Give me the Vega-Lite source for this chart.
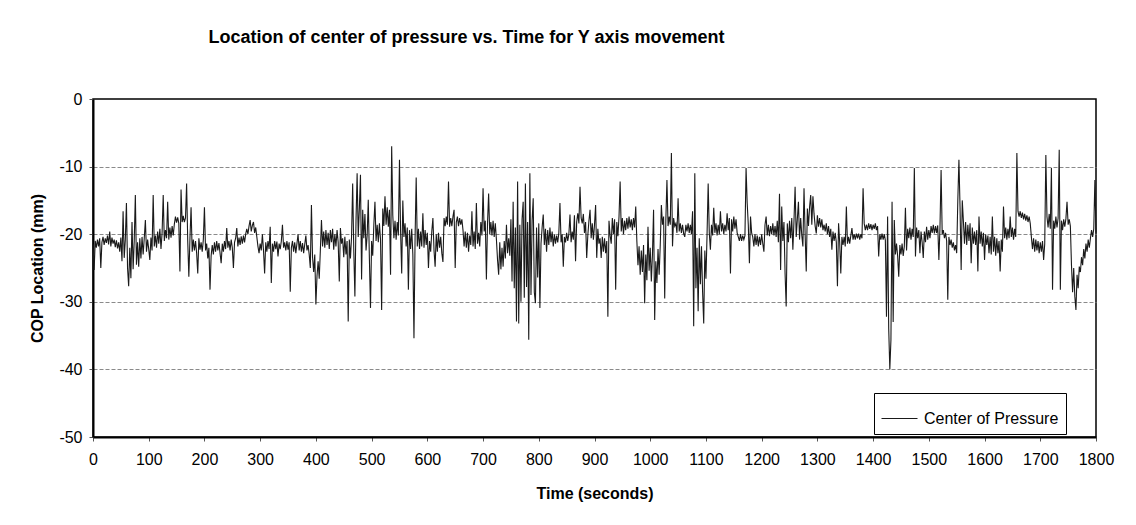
{
"$schema": "https://vega.github.io/schema/vega-lite/v6.json",
"autosize": {"type": "none"},
"width": 1003,
"height": 338,
"padding": {"left": 93, "top": 99, "right": 40, "bottom": 88},
"background": "white",
"config": {"font": "Liberation Sans", "view": {"stroke": "#000", "strokeWidth": 1.5}},
"title": {"text": "Location of center of pressure vs. Time for Y axis movement", "fontSize": 18, "fontWeight": "bold", "color": "#000", "anchor": "middle", "frame": "group", "dx": -128, "baseline": "alphabetic", "offset": 30},
"data": {"values": [
{"time":0,"cop":-21.5},{"time":2,"cop":-25.3},{"time":4,"cop":-21.0},{"time":6,"cop":-22.0},{"time":8,"cop":-20.8},{"time":10,"cop":-21.8},{"time":12,"cop":-20.6},{"time":14,"cop":-25.0},{"time":16,"cop":-21.2},{"time":18,"cop":-20.4},
{"time":20,"cop":-21.6},{"time":22,"cop":-20.6},{"time":24,"cop":-21.3},{"time":26,"cop":-20.2},{"time":28,"cop":-21.5},{"time":30,"cop":-19.6},{"time":32,"cop":-21.8},{"time":34,"cop":-20.5},{"time":36,"cop":-21.4},{"time":38,"cop":-20.8},
{"time":40,"cop":-21.9},{"time":42,"cop":-20.9},{"time":44,"cop":-22.1},{"time":46,"cop":-21.2},{"time":48,"cop":-22.6},{"time":50,"cop":-20.5},{"time":52,"cop":-24.0},{"time":54,"cop":-16.6},{"time":56,"cop":-23.5},{"time":58,"cop":-20.8},
{"time":60,"cop":-15.4},{"time":62,"cop":-25.0},{"time":64,"cop":-27.7},{"time":66,"cop":-22.0},{"time":68,"cop":-26.5},{"time":70,"cop":-18.2},{"time":72,"cop":-25.2},{"time":74,"cop":-21.0},{"time":76,"cop":-14.2},{"time":78,"cop":-24.5},
{"time":80,"cop":-21.2},{"time":82,"cop":-24.8},{"time":84,"cop":-20.6},{"time":86,"cop":-23.6},{"time":88,"cop":-20.4},{"time":90,"cop":-23.0},{"time":92,"cop":-20.6},{"time":94,"cop":-17.9},{"time":96,"cop":-22.6},{"time":98,"cop":-20.8},
{"time":100,"cop":-22.2},{"time":102,"cop":-23.8},{"time":104,"cop":-20.5},{"time":106,"cop":-22.4},{"time":108,"cop":-14.2},{"time":110,"cop":-21.8},{"time":112,"cop":-20.2},{"time":114,"cop":-22.0},{"time":116,"cop":-19.6},{"time":118,"cop":-21.4},
{"time":120,"cop":-19.2},{"time":122,"cop":-22.2},{"time":124,"cop":-19.8},{"time":126,"cop":-14.2},{"time":128,"cop":-21.0},{"time":130,"cop":-19.4},{"time":132,"cop":-20.6},{"time":134,"cop":-15.2},{"time":136,"cop":-20.8},{"time":138,"cop":-19.0},
{"time":140,"cop":-20.5},{"time":142,"cop":-18.8},{"time":144,"cop":-20.2},{"time":146,"cop":-18.5},{"time":148,"cop":-17.4},{"time":150,"cop":-18.3},{"time":152,"cop":-17.5},{"time":154,"cop":-18.4},{"time":156,"cop":-25.5},{"time":158,"cop":-13.4},
{"time":160,"cop":-18.2},{"time":162,"cop":-17.3},{"time":164,"cop":-18.2},{"time":166,"cop":-17.6},{"time":168,"cop":-12.5},{"time":170,"cop":-21.0},{"time":172,"cop":-26.3},{"time":174,"cop":-20.6},{"time":176,"cop":-16.0},{"time":178,"cop":-22.6},
{"time":180,"cop":-20.8},{"time":182,"cop":-22.4},{"time":184,"cop":-21.0},{"time":186,"cop":-22.8},{"time":188,"cop":-25.8},{"time":190,"cop":-20.6},{"time":192,"cop":-22.3},{"time":194,"cop":-21.2},{"time":196,"cop":-22.6},{"time":198,"cop":-20.8},
{"time":200,"cop":-16.0},{"time":202,"cop":-22.4},{"time":204,"cop":-21.4},{"time":206,"cop":-23.6},{"time":208,"cop":-22.0},{"time":210,"cop":-28.2},{"time":212,"cop":-23.2},{"time":214,"cop":-21.6},{"time":216,"cop":-23.0},{"time":218,"cop":-21.2},
{"time":220,"cop":-22.6},{"time":222,"cop":-21.0},{"time":224,"cop":-22.4},{"time":226,"cop":-21.3},{"time":228,"cop":-22.8},{"time":230,"cop":-24.3},{"time":232,"cop":-21.4},{"time":234,"cop":-22.6},{"time":236,"cop":-21.0},{"time":238,"cop":-22.2},
{"time":240,"cop":-19.1},{"time":242,"cop":-22.0},{"time":244,"cop":-21.0},{"time":246,"cop":-22.4},{"time":248,"cop":-20.8},{"time":250,"cop":-22.0},{"time":252,"cop":-25.0},{"time":254,"cop":-21.2},{"time":256,"cop":-20.6},{"time":258,"cop":-19.1},
{"time":260,"cop":-21.8},{"time":262,"cop":-20.5},{"time":264,"cop":-21.6},{"time":266,"cop":-20.3},{"time":268,"cop":-21.4},{"time":270,"cop":-20.2},{"time":272,"cop":-21.2},{"time":274,"cop":-20.0},{"time":276,"cop":-19.2},{"time":278,"cop":-20.0},
{"time":280,"cop":-18.8},{"time":282,"cop":-17.9},{"time":284,"cop":-19.6},{"time":286,"cop":-18.7},{"time":288,"cop":-18.2},{"time":290,"cop":-19.8},{"time":292,"cop":-19.0},{"time":294,"cop":-20.4},{"time":296,"cop":-21.8},{"time":298,"cop":-22.8},
{"time":300,"cop":-21.4},{"time":302,"cop":-22.4},{"time":304,"cop":-20.0},{"time":306,"cop":-22.4},{"time":308,"cop":-25.8},{"time":310,"cop":-21.2},{"time":312,"cop":-22.6},{"time":314,"cop":-21.0},{"time":316,"cop":-22.2},{"time":318,"cop":-18.9},
{"time":320,"cop":-27.2},{"time":322,"cop":-21.4},{"time":324,"cop":-22.6},{"time":326,"cop":-21.0},{"time":328,"cop":-22.2},{"time":330,"cop":-21.1},{"time":332,"cop":-23.3},{"time":334,"cop":-21.4},{"time":336,"cop":-22.2},{"time":338,"cop":-21.0},
{"time":340,"cop":-18.6},{"time":342,"cop":-22.0},{"time":344,"cop":-21.2},{"time":346,"cop":-22.4},{"time":348,"cop":-21.0},{"time":350,"cop":-22.3},{"time":352,"cop":-21.2},{"time":354,"cop":-28.5},{"time":356,"cop":-22.0},{"time":358,"cop":-21.0},
{"time":360,"cop":-22.6},{"time":362,"cop":-21.2},{"time":364,"cop":-22.8},{"time":366,"cop":-21.4},{"time":368,"cop":-20.0},{"time":370,"cop":-22.4},{"time":372,"cop":-21.0},{"time":374,"cop":-22.6},{"time":376,"cop":-21.3},{"time":378,"cop":-22.8},
{"time":380,"cop":-21.5},{"time":382,"cop":-20.2},{"time":384,"cop":-22.4},{"time":386,"cop":-21.6},{"time":388,"cop":-23.0},{"time":390,"cop":-25.0},{"time":392,"cop":-15.7},{"time":394,"cop":-23.4},{"time":396,"cop":-25.6},{"time":398,"cop":-23.0},
{"time":400,"cop":-30.4},{"time":402,"cop":-26.2},{"time":404,"cop":-24.0},{"time":406,"cop":-26.6},{"time":408,"cop":-22.4},{"time":410,"cop":-17.9},{"time":412,"cop":-21.8},{"time":414,"cop":-19.6},{"time":416,"cop":-22.0},{"time":418,"cop":-19.4},
{"time":420,"cop":-21.6},{"time":422,"cop":-19.8},{"time":424,"cop":-22.2},{"time":426,"cop":-19.4},{"time":428,"cop":-21.2},{"time":430,"cop":-19.2},{"time":432,"cop":-22.3},{"time":434,"cop":-20.0},{"time":436,"cop":-21.8},{"time":438,"cop":-19.4},
{"time":440,"cop":-21.2},{"time":442,"cop":-27.0},{"time":444,"cop":-19.1},{"time":446,"cop":-21.4},{"time":448,"cop":-20.6},{"time":450,"cop":-23.4},{"time":452,"cop":-20.4},{"time":454,"cop":-23.0},{"time":456,"cop":-21.0},{"time":458,"cop":-32.9},
{"time":460,"cop":-20.8},{"time":462,"cop":-23.6},{"time":464,"cop":-20.4},{"time":466,"cop":-12.5},{"time":468,"cop":-22.4},{"time":470,"cop":-29.2},{"time":472,"cop":-18.0},{"time":474,"cop":-11.0},{"time":476,"cop":-20.4},{"time":478,"cop":-16.2},
{"time":480,"cop":-11.2},{"time":482,"cop":-26.7},{"time":484,"cop":-16.4},{"time":486,"cop":-20.6},{"time":488,"cop":-17.0},{"time":490,"cop":-22.4},{"time":492,"cop":-20.2},{"time":494,"cop":-14.9},{"time":496,"cop":-23.6},{"time":498,"cop":-30.9},
{"time":500,"cop":-21.0},{"time":502,"cop":-23.2},{"time":504,"cop":-18.6},{"time":506,"cop":-15.2},{"time":508,"cop":-21.0},{"time":510,"cop":-18.6},{"time":512,"cop":-21.2},{"time":514,"cop":-18.4},{"time":516,"cop":-20.8},{"time":518,"cop":-31.2},
{"time":520,"cop":-16.2},{"time":522,"cop":-18.8},{"time":524,"cop":-14.4},{"time":526,"cop":-18.6},{"time":528,"cop":-16.0},{"time":530,"cop":-18.9},{"time":532,"cop":-16.4},{"time":534,"cop":-26.0},{"time":536,"cop":-7.0},{"time":538,"cop":-17.2},
{"time":540,"cop":-20.6},{"time":542,"cop":-18.0},{"time":544,"cop":-20.8},{"time":546,"cop":-18.2},{"time":548,"cop":-20.2},{"time":550,"cop":-9.0},{"time":552,"cop":-19.6},{"time":554,"cop":-25.8},{"time":556,"cop":-15.0},{"time":558,"cop":-20.4},
{"time":560,"cop":-18.4},{"time":562,"cop":-21.8},{"time":564,"cop":-19.0},{"time":566,"cop":-28.2},{"time":568,"cop":-19.4},{"time":570,"cop":-22.2},{"time":572,"cop":-19.2},{"time":574,"cop":-23.0},{"time":576,"cop":-35.4},{"time":578,"cop":-20.6},
{"time":580,"cop":-11.6},{"time":582,"cop":-21.8},{"time":584,"cop":-19.2},{"time":586,"cop":-22.2},{"time":588,"cop":-19.6},{"time":590,"cop":-21.8},{"time":592,"cop":-16.9},{"time":594,"cop":-22.0},{"time":596,"cop":-19.4},{"time":598,"cop":-21.6},
{"time":600,"cop":-19.8},{"time":602,"cop":-25.0},{"time":604,"cop":-21.0},{"time":606,"cop":-22.6},{"time":608,"cop":-19.6},{"time":610,"cop":-17.6},{"time":612,"cop":-22.4},{"time":614,"cop":-24.8},{"time":616,"cop":-20.0},{"time":618,"cop":-22.6},
{"time":620,"cop":-19.8},{"time":622,"cop":-22.0},{"time":624,"cop":-20.4},{"time":626,"cop":-22.8},{"time":628,"cop":-24.1},{"time":630,"cop":-17.6},{"time":632,"cop":-18.8},{"time":634,"cop":-17.4},{"time":636,"cop":-18.6},{"time":638,"cop":-12.2},
{"time":640,"cop":-18.9},{"time":642,"cop":-17.6},{"time":644,"cop":-18.8},{"time":646,"cop":-17.4},{"time":648,"cop":-16.4},{"time":650,"cop":-25.0},{"time":652,"cop":-18.2},{"time":654,"cop":-17.4},{"time":656,"cop":-18.8},{"time":658,"cop":-17.6},
{"time":660,"cop":-18.6},{"time":662,"cop":-17.8},{"time":664,"cop":-19.4},{"time":666,"cop":-21.8},{"time":668,"cop":-19.6},{"time":670,"cop":-22.0},{"time":672,"cop":-19.8},{"time":674,"cop":-22.6},{"time":676,"cop":-20.2},{"time":678,"cop":-21.6},
{"time":680,"cop":-16.6},{"time":682,"cop":-21.8},{"time":684,"cop":-19.6},{"time":686,"cop":-22.2},{"time":688,"cop":-15.4},{"time":690,"cop":-21.4},{"time":692,"cop":-19.8},{"time":694,"cop":-21.8},{"time":696,"cop":-18.2},{"time":698,"cop":-20.2},
{"time":700,"cop":-13.2},{"time":702,"cop":-19.6},{"time":704,"cop":-18.0},{"time":706,"cop":-26.7},{"time":708,"cop":-18.4},{"time":710,"cop":-14.0},{"time":712,"cop":-20.0},{"time":714,"cop":-18.2},{"time":716,"cop":-20.2},{"time":718,"cop":-18.0},
{"time":720,"cop":-20.4},{"time":722,"cop":-18.4},{"time":724,"cop":-20.8},{"time":726,"cop":-23.8},{"time":728,"cop":-26.0},{"time":730,"cop":-21.2},{"time":732,"cop":-25.2},{"time":734,"cop":-22.0},{"time":736,"cop":-24.8},{"time":738,"cop":-21.0},
{"time":740,"cop":-23.6},{"time":742,"cop":-18.6},{"time":744,"cop":-22.8},{"time":746,"cop":-20.6},{"time":748,"cop":-23.2},{"time":750,"cop":-17.8},{"time":752,"cop":-27.0},{"time":754,"cop":-15.2},{"time":756,"cop":-28.0},{"time":758,"cop":-19.0},
{"time":760,"cop":-32.9},{"time":762,"cop":-12.2},{"time":764,"cop":-33.2},{"time":766,"cop":-18.6},{"time":768,"cop":-30.0},{"time":770,"cop":-17.8},{"time":772,"cop":-15.2},{"time":774,"cop":-29.4},{"time":776,"cop":-12.5},{"time":778,"cop":-27.8},
{"time":780,"cop":-18.2},{"time":782,"cop":-35.6},{"time":784,"cop":-11.0},{"time":786,"cop":-29.0},{"time":788,"cop":-18.0},{"time":790,"cop":-14.7},{"time":792,"cop":-28.6},{"time":794,"cop":-30.2},{"time":796,"cop":-19.0},{"time":798,"cop":-26.4},
{"time":800,"cop":-18.4},{"time":802,"cop":-30.9},{"time":804,"cop":-21.4},{"time":806,"cop":-19.0},{"time":808,"cop":-17.1},{"time":810,"cop":-21.6},{"time":812,"cop":-19.2},{"time":814,"cop":-22.6},{"time":816,"cop":-19.4},{"time":818,"cop":-21.6},
{"time":820,"cop":-19.0},{"time":822,"cop":-21.2},{"time":824,"cop":-19.6},{"time":826,"cop":-21.8},{"time":828,"cop":-20.0},{"time":830,"cop":-21.4},{"time":832,"cop":-20.2},{"time":834,"cop":-21.2},{"time":836,"cop":-19.8},{"time":838,"cop":-15.4},
{"time":840,"cop":-21.2},{"time":842,"cop":-20.0},{"time":844,"cop":-24.8},{"time":846,"cop":-20.4},{"time":848,"cop":-21.2},{"time":850,"cop":-19.8},{"time":852,"cop":-21.0},{"time":854,"cop":-20.0},{"time":856,"cop":-17.1},{"time":858,"cop":-21.2},
{"time":860,"cop":-19.6},{"time":862,"cop":-20.8},{"time":864,"cop":-17.2},{"time":866,"cop":-24.0},{"time":868,"cop":-18.2},{"time":870,"cop":-16.9},{"time":872,"cop":-18.4},{"time":874,"cop":-13.0},{"time":876,"cop":-17.6},{"time":878,"cop":-18.4},
{"time":880,"cop":-17.0},{"time":882,"cop":-19.8},{"time":884,"cop":-18.2},{"time":886,"cop":-23.5},{"time":888,"cop":-20.2},{"time":890,"cop":-18.0},{"time":892,"cop":-16.4},{"time":894,"cop":-20.6},{"time":896,"cop":-18.4},{"time":898,"cop":-20.8},
{"time":900,"cop":-18.6},{"time":902,"cop":-15.7},{"time":904,"cop":-23.5},{"time":906,"cop":-19.2},{"time":908,"cop":-21.4},{"time":910,"cop":-20.6},{"time":912,"cop":-23.5},{"time":914,"cop":-20.4},{"time":916,"cop":-22.6},{"time":918,"cop":-20.6},
{"time":920,"cop":-22.8},{"time":922,"cop":-21.0},{"time":924,"cop":-32.2},{"time":926,"cop":-18.0},{"time":928,"cop":-20.2},{"time":930,"cop":-21.4},{"time":932,"cop":-17.6},{"time":934,"cop":-20.0},{"time":936,"cop":-17.8},{"time":938,"cop":-28.2},
{"time":940,"cop":-18.2},{"time":942,"cop":-20.3},{"time":944,"cop":-17.4},{"time":946,"cop":-12.2},{"time":948,"cop":-19.6},{"time":950,"cop":-17.6},{"time":952,"cop":-20.0},{"time":954,"cop":-18.0},{"time":956,"cop":-19.4},{"time":958,"cop":-17.6},
{"time":960,"cop":-19.2},{"time":962,"cop":-17.4},{"time":964,"cop":-19.0},{"time":966,"cop":-17.8},{"time":968,"cop":-19.4},{"time":970,"cop":-17.6},{"time":972,"cop":-19.0},{"time":974,"cop":-15.9},{"time":976,"cop":-21.0},{"time":978,"cop":-24.6},
{"time":980,"cop":-21.8},{"time":982,"cop":-26.0},{"time":984,"cop":-22.4},{"time":986,"cop":-25.6},{"time":988,"cop":-21.6},{"time":990,"cop":-30.2},{"time":992,"cop":-23.0},{"time":994,"cop":-26.8},{"time":996,"cop":-18.9},{"time":998,"cop":-25.4},
{"time":1000,"cop":-22.0},{"time":1002,"cop":-27.0},{"time":1004,"cop":-23.0},{"time":1006,"cop":-16.4},{"time":1008,"cop":-32.7},{"time":1010,"cop":-24.0},{"time":1012,"cop":-27.2},{"time":1014,"cop":-22.2},{"time":1016,"cop":-26.0},{"time":1018,"cop":-21.6},
{"time":1020,"cop":-15.7},{"time":1022,"cop":-18.6},{"time":1024,"cop":-17.4},{"time":1026,"cop":-29.5},{"time":1028,"cop":-18.0},{"time":1030,"cop":-12.0},{"time":1032,"cop":-18.8},{"time":1034,"cop":-17.4},{"time":1036,"cop":-18.6},{"time":1038,"cop":-8.0},
{"time":1040,"cop":-21.8},{"time":1042,"cop":-17.6},{"time":1044,"cop":-18.8},{"time":1046,"cop":-18.4},{"time":1048,"cop":-19.8},{"time":1050,"cop":-14.7},{"time":1052,"cop":-19.6},{"time":1054,"cop":-18.4},{"time":1056,"cop":-19.8},{"time":1058,"cop":-18.6},
{"time":1060,"cop":-19.9},{"time":1062,"cop":-20.4},{"time":1064,"cop":-18.6},{"time":1066,"cop":-19.6},{"time":1068,"cop":-18.4},{"time":1070,"cop":-19.8},{"time":1072,"cop":-18.6},{"time":1074,"cop":-20.0},{"time":1076,"cop":-16.6},{"time":1078,"cop":-33.6},
{"time":1080,"cop":-11.0},{"time":1082,"cop":-28.0},{"time":1084,"cop":-22.0},{"time":1086,"cop":-31.4},{"time":1088,"cop":-20.6},{"time":1090,"cop":-27.4},{"time":1092,"cop":-21.8},{"time":1094,"cop":-28.6},{"time":1096,"cop":-33.2},{"time":1098,"cop":-22.4},
{"time":1100,"cop":-26.6},{"time":1102,"cop":-20.0},{"time":1104,"cop":-12.5},{"time":1106,"cop":-19.8},{"time":1108,"cop":-22.3},{"time":1110,"cop":-18.6},{"time":1112,"cop":-20.2},{"time":1114,"cop":-16.1},{"time":1116,"cop":-19.8},{"time":1118,"cop":-18.4},
{"time":1120,"cop":-20.2},{"time":1122,"cop":-18.6},{"time":1124,"cop":-20.0},{"time":1126,"cop":-16.6},{"time":1128,"cop":-19.6},{"time":1130,"cop":-18.4},{"time":1132,"cop":-20.0},{"time":1134,"cop":-18.6},{"time":1136,"cop":-19.6},{"time":1138,"cop":-16.9},
{"time":1140,"cop":-19.4},{"time":1142,"cop":-17.6},{"time":1144,"cop":-25.8},{"time":1146,"cop":-17.8},{"time":1148,"cop":-19.6},{"time":1150,"cop":-17.4},{"time":1152,"cop":-19.2},{"time":1154,"cop":-17.8},{"time":1156,"cop":-19.8},{"time":1158,"cop":-20.4},
{"time":1160,"cop":-21.0},{"time":1162,"cop":-20.0},{"time":1164,"cop":-21.0},{"time":1166,"cop":-20.2},{"time":1168,"cop":-20.8},{"time":1170,"cop":-20.2},{"time":1172,"cop":-10.2},{"time":1174,"cop":-15.4},{"time":1176,"cop":-18.6},{"time":1178,"cop":-24.3},
{"time":1180,"cop":-17.4},{"time":1182,"cop":-19.8},{"time":1184,"cop":-20.4},{"time":1186,"cop":-21.8},{"time":1188,"cop":-20.0},{"time":1190,"cop":-21.6},{"time":1192,"cop":-20.2},{"time":1194,"cop":-21.8},{"time":1196,"cop":-20.4},{"time":1198,"cop":-21.6},
{"time":1200,"cop":-20.0},{"time":1202,"cop":-21.4},{"time":1204,"cop":-22.6},{"time":1206,"cop":-18.6},{"time":1208,"cop":-17.4},{"time":1210,"cop":-20.2},{"time":1212,"cop":-18.6},{"time":1214,"cop":-20.3},{"time":1216,"cop":-18.8},{"time":1218,"cop":-20.0},
{"time":1220,"cop":-18.4},{"time":1222,"cop":-20.2},{"time":1224,"cop":-18.8},{"time":1226,"cop":-20.4},{"time":1228,"cop":-18.0},{"time":1230,"cop":-21.2},{"time":1232,"cop":-14.0},{"time":1234,"cop":-25.3},{"time":1236,"cop":-15.9},{"time":1238,"cop":-21.0},
{"time":1240,"cop":-18.2},{"time":1242,"cop":-25.8},{"time":1244,"cop":-30.7},{"time":1246,"cop":-18.4},{"time":1248,"cop":-21.2},{"time":1250,"cop":-18.0},{"time":1252,"cop":-20.6},{"time":1254,"cop":-17.6},{"time":1256,"cop":-22.3},{"time":1258,"cop":-18.0},
{"time":1260,"cop":-13.0},{"time":1262,"cop":-20.4},{"time":1264,"cop":-17.8},{"time":1266,"cop":-15.2},{"time":1268,"cop":-20.8},{"time":1270,"cop":-17.6},{"time":1272,"cop":-20.2},{"time":1274,"cop":-21.8},{"time":1276,"cop":-13.2},{"time":1278,"cop":-20.0},
{"time":1280,"cop":-25.5},{"time":1282,"cop":-16.2},{"time":1284,"cop":-18.8},{"time":1286,"cop":-16.0},{"time":1288,"cop":-14.2},{"time":1290,"cop":-18.6},{"time":1292,"cop":-14.4},{"time":1294,"cop":-17.0},{"time":1296,"cop":-18.8},{"time":1298,"cop":-19.9},
{"time":1300,"cop":-17.2},{"time":1302,"cop":-18.9},{"time":1304,"cop":-17.6},{"time":1306,"cop":-19.0},{"time":1308,"cop":-17.8},{"time":1310,"cop":-19.4},{"time":1312,"cop":-18.6},{"time":1314,"cop":-19.6},{"time":1316,"cop":-18.4},{"time":1318,"cop":-20.0},
{"time":1320,"cop":-18.8},{"time":1322,"cop":-20.4},{"time":1324,"cop":-19.2},{"time":1326,"cop":-22.3},{"time":1328,"cop":-19.6},{"time":1330,"cop":-21.0},{"time":1332,"cop":-19.8},{"time":1334,"cop":-21.2},{"time":1336,"cop":-27.7},{"time":1338,"cop":-18.4},
{"time":1340,"cop":-21.2},{"time":1342,"cop":-25.8},{"time":1344,"cop":-20.4},{"time":1346,"cop":-21.6},{"time":1348,"cop":-20.4},{"time":1350,"cop":-21.8},{"time":1352,"cop":-15.9},{"time":1354,"cop":-21.4},{"time":1356,"cop":-20.4},{"time":1358,"cop":-21.4},
{"time":1360,"cop":-20.2},{"time":1362,"cop":-19.1},{"time":1364,"cop":-20.8},{"time":1366,"cop":-20.0},{"time":1368,"cop":-20.8},{"time":1370,"cop":-19.9},{"time":1372,"cop":-20.6},{"time":1374,"cop":-19.9},{"time":1376,"cop":-20.8},{"time":1378,"cop":-20.0},
{"time":1380,"cop":-20.6},{"time":1382,"cop":-13.2},{"time":1384,"cop":-18.4},{"time":1386,"cop":-19.4},{"time":1388,"cop":-18.6},{"time":1390,"cop":-19.4},{"time":1392,"cop":-18.4},{"time":1394,"cop":-19.2},{"time":1396,"cop":-18.5},{"time":1398,"cop":-19.4},
{"time":1400,"cop":-18.6},{"time":1402,"cop":-19.2},{"time":1404,"cop":-18.4},{"time":1406,"cop":-19.4},{"time":1408,"cop":-18.8},{"time":1410,"cop":-23.3},{"time":1412,"cop":-20.0},{"time":1414,"cop":-20.8},{"time":1416,"cop":-19.9},{"time":1418,"cop":-20.8},
{"time":1420,"cop":-20.0},{"time":1422,"cop":-20.9},{"time":1424,"cop":-32.2},{"time":1426,"cop":-17.4},{"time":1428,"cop":-34.0},{"time":1430,"cop":-40.0},{"time":1432,"cop":-35.6},{"time":1434,"cop":-15.2},{"time":1436,"cop":-33.0},{"time":1438,"cop":-17.9},
{"time":1440,"cop":-23.0},{"time":1442,"cop":-21.4},{"time":1444,"cop":-23.2},{"time":1446,"cop":-26.3},{"time":1448,"cop":-21.6},{"time":1450,"cop":-23.0},{"time":1452,"cop":-21.4},{"time":1454,"cop":-23.2},{"time":1456,"cop":-21.8},{"time":1458,"cop":-16.1},
{"time":1460,"cop":-22.4},{"time":1462,"cop":-19.2},{"time":1464,"cop":-20.6},{"time":1466,"cop":-19.0},{"time":1468,"cop":-20.8},{"time":1470,"cop":-19.2},{"time":1472,"cop":-20.4},{"time":1474,"cop":-10.2},{"time":1476,"cop":-23.3},{"time":1478,"cop":-19.0},
{"time":1480,"cop":-20.6},{"time":1482,"cop":-19.4},{"time":1484,"cop":-22.8},{"time":1486,"cop":-19.6},{"time":1488,"cop":-21.2},{"time":1490,"cop":-23.5},{"time":1492,"cop":-19.6},{"time":1494,"cop":-21.2},{"time":1496,"cop":-18.9},{"time":1498,"cop":-20.8},
{"time":1500,"cop":-19.4},{"time":1502,"cop":-20.6},{"time":1504,"cop":-18.8},{"time":1506,"cop":-19.8},{"time":1508,"cop":-18.6},{"time":1510,"cop":-19.9},{"time":1512,"cop":-18.8},{"time":1514,"cop":-19.8},{"time":1516,"cop":-18.7},{"time":1518,"cop":-23.8},
{"time":1520,"cop":-19.0},{"time":1522,"cop":-10.5},{"time":1524,"cop":-20.0},{"time":1526,"cop":-19.4},{"time":1528,"cop":-20.6},{"time":1530,"cop":-19.8},{"time":1532,"cop":-21.0},{"time":1534,"cop":-29.7},{"time":1536,"cop":-20.4},{"time":1538,"cop":-21.6},
{"time":1540,"cop":-20.8},{"time":1542,"cop":-22.0},{"time":1544,"cop":-21.2},{"time":1546,"cop":-22.4},{"time":1548,"cop":-21.6},{"time":1550,"cop":-22.8},{"time":1552,"cop":-15.0},{"time":1554,"cop":-9.0},{"time":1556,"cop":-16.0},{"time":1558,"cop":-25.3},
{"time":1560,"cop":-15.0},{"time":1562,"cop":-18.0},{"time":1564,"cop":-21.4},{"time":1566,"cop":-18.2},{"time":1568,"cop":-21.6},{"time":1570,"cop":-18.6},{"time":1572,"cop":-21.0},{"time":1574,"cop":-18.4},{"time":1576,"cop":-24.3},{"time":1578,"cop":-19.0},
{"time":1580,"cop":-21.4},{"time":1582,"cop":-19.6},{"time":1584,"cop":-21.6},{"time":1586,"cop":-19.4},{"time":1588,"cop":-25.5},{"time":1590,"cop":-17.4},{"time":1592,"cop":-21.4},{"time":1594,"cop":-19.6},{"time":1596,"cop":-21.8},{"time":1598,"cop":-19.8},
{"time":1600,"cop":-23.8},{"time":1602,"cop":-20.0},{"time":1604,"cop":-21.6},{"time":1606,"cop":-20.2},{"time":1608,"cop":-22.8},{"time":1610,"cop":-20.4},{"time":1612,"cop":-23.0},{"time":1614,"cop":-17.4},{"time":1616,"cop":-22.6},{"time":1618,"cop":-20.4},
{"time":1620,"cop":-23.2},{"time":1622,"cop":-20.6},{"time":1624,"cop":-22.8},{"time":1626,"cop":-21.0},{"time":1628,"cop":-25.5},{"time":1630,"cop":-20.8},{"time":1632,"cop":-22.6},{"time":1634,"cop":-15.9},{"time":1636,"cop":-20.6},{"time":1638,"cop":-19.0},
{"time":1640,"cop":-20.8},{"time":1642,"cop":-19.2},{"time":1644,"cop":-20.6},{"time":1646,"cop":-17.4},{"time":1648,"cop":-20.4},{"time":1650,"cop":-19.0},{"time":1652,"cop":-20.8},{"time":1654,"cop":-19.2},{"time":1656,"cop":-20.4},{"time":1658,"cop":-8.0},
{"time":1660,"cop":-16.6},{"time":1662,"cop":-17.4},{"time":1664,"cop":-16.6},{"time":1666,"cop":-17.6},{"time":1668,"cop":-16.8},{"time":1670,"cop":-17.8},{"time":1672,"cop":-17.0},{"time":1674,"cop":-18.0},{"time":1676,"cop":-17.2},{"time":1678,"cop":-18.2},
{"time":1680,"cop":-17.4},{"time":1682,"cop":-18.4},{"time":1684,"cop":-20.4},{"time":1686,"cop":-22.2},{"time":1688,"cop":-20.6},{"time":1690,"cop":-22.6},{"time":1692,"cop":-20.8},{"time":1694,"cop":-22.4},{"time":1696,"cop":-21.0},{"time":1698,"cop":-22.8},
{"time":1700,"cop":-21.2},{"time":1702,"cop":-22.6},{"time":1704,"cop":-21.0},{"time":1706,"cop":-23.8},{"time":1708,"cop":-21.4},{"time":1710,"cop":-8.3},{"time":1712,"cop":-17.4},{"time":1714,"cop":-19.0},{"time":1716,"cop":-17.0},{"time":1718,"cop":-19.2},
{"time":1720,"cop":-10.2},{"time":1722,"cop":-28.2},{"time":1724,"cop":-18.0},{"time":1726,"cop":-19.2},{"time":1728,"cop":-17.4},{"time":1730,"cop":-19.0},{"time":1732,"cop":-17.6},{"time":1734,"cop":-7.5},{"time":1736,"cop":-28.2},{"time":1738,"cop":-18.0},
{"time":1740,"cop":-19.4},{"time":1742,"cop":-17.8},{"time":1744,"cop":-18.9},{"time":1746,"cop":-17.7},{"time":1748,"cop":-15.2},{"time":1750,"cop":-18.6},{"time":1752,"cop":-17.8},{"time":1754,"cop":-18.8},{"time":1756,"cop":-24.6},{"time":1758,"cop":-28.6},
{"time":1760,"cop":-25.0},{"time":1762,"cop":-29.2},{"time":1764,"cop":-31.2},{"time":1766,"cop":-26.0},{"time":1768,"cop":-28.0},{"time":1770,"cop":-24.8},{"time":1772,"cop":-25.6},{"time":1774,"cop":-23.4},{"time":1776,"cop":-24.6},{"time":1778,"cop":-22.2},
{"time":1780,"cop":-23.6},{"time":1782,"cop":-21.4},{"time":1784,"cop":-22.6},{"time":1786,"cop":-20.8},{"time":1788,"cop":-22.0},{"time":1790,"cop":-20.6},{"time":1792,"cop":-19.4},{"time":1794,"cop":-20.4},{"time":1796,"cop":-19.2},{"time":1798,"cop":-12.0},
{"time":1800,"cop":-19.8}
]},
"mark": {"type": "line", "strokeWidth": 1.1, "interpolate": "linear"},
"encoding": {
"x": {"field": "time", "type": "quantitative", "scale": {"domain": [0, 1800], "nice": false, "zero": false},
"axis": {"values": [0,100,200,300,400,500,600,700,800,900,1000,1100,1200,1300,1400,1500,1600,1700,1800], "labelExpr": "'' + datum.value", "title": "Time (seconds)", "grid": false, "domainColor": "#000", "domainWidth": 2, "tickColor": "#555", "tickSize": 4, "labelFontSize": 16, "labelColor": "#000", "labelPadding": 10, "labelFlush": false, "labelOverlap": false, "titleFontSize": 16, "titleFontWeight": "bold", "titleColor": "#000", "titleX": 501.5, "titleY": 56, "titleBaseline": "middle"}},
"y": {"field": "cop", "type": "quantitative", "scale": {"domain": [-50, 0], "nice": false, "zero": false},
"axis": {"values": [-50,-40,-30,-20,-10,0], "labelExpr": "'' + datum.value", "title": "COP Location (mm)", "grid": true, "gridColor": "#8a8a8a", "gridDash": [4, 2], "gridWidth": 1, "gridOpacity": {"condition": {"test": "datum.value == 0 || datum.value == -50", "value": 0}, "value": 1}, "domainColor": "#000", "domainWidth": 2, "tickColor": "#555", "tickSize": 4, "labelFontSize": 16, "labelColor": "#000", "labelPadding": 7, "titleFontSize": 16, "titleFontWeight": "bold", "titleColor": "#000", "titleX": -56, "titleY": 169, "titleBaseline": "middle"}},
"color": {"datum": "Center of Pressure", "scale": {"range": ["#1a1a1a"]},
"legend": {"title": null, "orient": "none", "legendX": 781, "legendY": 294, "strokeColor": "#000", "fillColor": "#fff", "padding": 7, "symbolType": "stroke", "symbolSize": 1296, "symbolStrokeWidth": 1, "symbolStrokeColor": "#1a1a1a", "labelFontSize": 16, "labelColor": "#000", "labelOffset": 6, "cornerRadius": 0}}
}
}
